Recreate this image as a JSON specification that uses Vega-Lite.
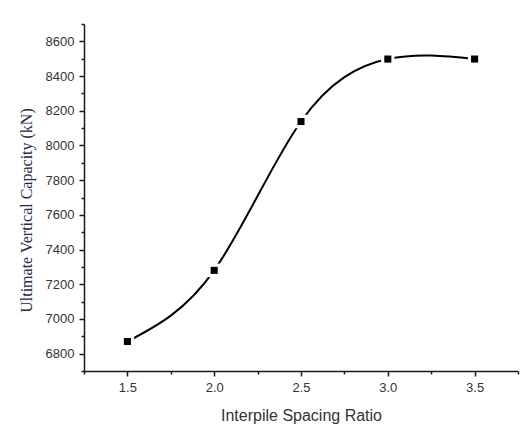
{
  "$schema": "https://vega.github.io/schema/vega-lite/v6.json",
  "width": 434,
  "height": 347,
  "autosize": "none",
  "padding": {"left": 84, "top": 24, "right": 10, "bottom": 54},
  "background": "white",
  "config": {
    "view": {"stroke": null},
    "axis": {
      "grid": false,
      "domainColor": "#1a1a1a",
      "domainWidth": 1.5,
      "tickColor": "#1a1a1a",
      "tickWidth": 1.5,
      "labelFont": "Liberation Sans",
      "labelFontSize": 13,
      "labelColor": "#333333",
      "titleFontWeight": "normal"
    }
  },
  "data": {
    "values": [
      {"ratio": 1.5, "capacity": 6870},
      {"ratio": 2.0, "capacity": 7280},
      {"ratio": 2.5, "capacity": 8138},
      {"ratio": 3.0, "capacity": 8498},
      {"ratio": 3.5, "capacity": 8498}
    ]
  },
  "encoding": {
    "x": {
      "field": "ratio",
      "type": "quantitative",
      "scale": {"domain": [1.25, 3.75], "nice": false, "zero": false},
      "axis": {
        "title": "Interpile Spacing Ratio",
        "titleFont": "Liberation Sans",
        "titleFontSize": 16,
        "titleColor": "#333333",
        "titlePadding": 13,
        "values": [1.25, 1.5, 1.75, 2.0, 2.25, 2.5, 2.75, 3.0, 3.25, 3.5, 3.75],
        "labelExpr": "(abs(datum.value*2 - round(datum.value*2)) < 0.01) && datum.value > 1.3 && datum.value < 3.7 ? format(datum.value, '.1f') : ''",
        "tickSize": {"condition": {"test": "abs(datum.value*2 - round(datum.value*2)) < 0.01", "value": 5}, "value": 3},
        "labelPadding": 5,
        "labelFlush": false,
        "labelOverlap": false
      }
    },
    "y": {
      "field": "capacity",
      "type": "quantitative",
      "scale": {"domain": [6700, 8700], "nice": false, "zero": false},
      "axis": {
        "title": "Ultimate Vertical Capacity (kN)",
        "titleFont": "Liberation Serif",
        "titleFontSize": 16,
        "titleColor": "#262a48",
        "titlePadding": 11,
        "titleY": 186,
        "values": [6700, 6800, 6900, 7000, 7100, 7200, 7300, 7400, 7500, 7600, 7700, 7800, 7900, 8000, 8100, 8200, 8300, 8400, 8500, 8600, 8700],
        "labelExpr": "(datum.value % 200 === 0) && datum.value > 6750 && datum.value < 8650 ? format(datum.value, 'd') : ''",
        "tickSize": {"condition": {"test": "datum.value % 200 === 0", "value": 5}, "value": 3},
        "labelPadding": 5,
        "labelFlush": false,
        "labelOverlap": false
      }
    }
  },
  "layer": [
    {
      "mark": {"type": "line", "interpolate": "natural", "color": "black", "strokeWidth": 2}
    },
    {
      "mark": {"type": "point", "shape": "square", "filled": true, "color": "white", "opacity": 1, "size": 180}
    },
    {
      "mark": {"type": "point", "shape": "square", "filled": true, "color": "black", "opacity": 1, "size": 50}
    }
  ]
}
